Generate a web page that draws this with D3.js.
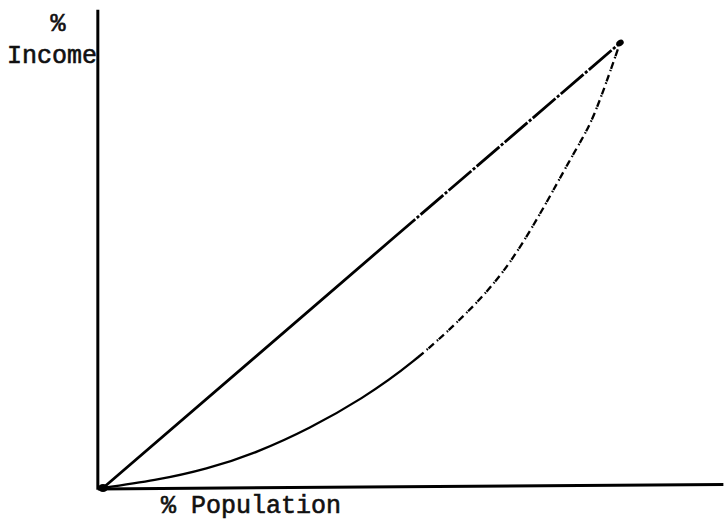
<!DOCTYPE html>
<html>
<head>
<meta charset="utf-8">
<script src="https://cdn.jsdelivr.net/npm/d3@7"></script>
<style>
  body { margin: 0; background: #fff; }
  text { font-family: "Liberation Mono", "DejaVu Sans Mono", monospace; fill: #111; stroke: #111; stroke-width: 0.6px; }
</style>
</head>
<body>
<div id="chart"></div>
<script>
// % population (cumulative) and % income (cumulative)
const population = [0, 10, 20, 30, 40, 50, 60, 70, 80, 90, 95, 100];
const income     = [0, 1.8, 4.4, 8.3, 13.6, 20.2, 28.5, 39, 53, 73, 84, 100];
const equality   = [0, 100];

const xLabel = '% Population';
const yLabel = ['%', 'Income'];

const width = 725, height = 522;

let svg = d3.select('#chart')
  .append('svg')
    .attr('width', width)
    .attr('height', height);

// scales
let x = d3.scaleLinear().domain([0, 100]).range([103, 620]);
let y = d3.scaleLinear().domain([0, 100]).range([488, 43]);

// axes (plain lines, no ticks)
svg.append('line')
  .attr('x1', x(-1)).attr('x2', x(-1))
  .attr('y1', y(-0.4)).attr('y2', y(107.5))
  .attr('stroke', '#000').attr('stroke-width', 3);
svg.append('line')
  .attr('x1', x(-1)).attr('x2', x(120))
  .attr('y1', y(-0.2)).attr('y2', y(0.8))
  .attr('stroke', '#000').attr('stroke-width', 3);

let line = d3.line()
  .x(d => x(d[0]))
  .y(d => y(d[1]))
  .curve(d3.curveNatural);

// solid for the lower part of a path, then a broken pattern (faded print)
function brokenAfter(node, xCut, pattern) {
  let len = node.getTotalLength();
  let lo = 0, hi = len;
  for (let i = 0; i < 30; i++) {
    let mid = (lo + hi) / 2;
    if (node.getPointAtLength(mid).x < x(xCut)) lo = mid; else hi = mid;
  }
  let pat = [lo, 0];
  let step = d3.sum(pattern);
  for (let s = lo; s < len; s += step) pat = pat.concat(pattern);
  return pat.join(',');
}

// line of equality
let eqPts = equality.map(v => [v, v]);
svg.append('path')
  .datum(eqPts)
  .attr('d', line)
  .attr('fill', 'none').attr('stroke', '#000').attr('stroke-width', 2.8)
  .attr('stroke-dasharray', function() { return brokenAfter(this, 56, [30, 2, 3, 2]); });

// lorenz curve
let lorenz = population.map((p, i) => [p, income[i]]);
svg.append('path')
  .datum(lorenz)
  .attr('d', line)
  .attr('fill', 'none').attr('stroke', '#000').attr('stroke-width', 2.3)
  .attr('stroke-dasharray', function() { return brokenAfter(this, 61, [7, 4, 1.5, 1]); });

// end blobs
svg.append('ellipse')
  .attr('cx', x(0)).attr('cy', y(0))
  .attr('rx', 5).attr('ry', 4).attr('fill', '#000');
svg.append('ellipse')
  .attr('cx', x(100)).attr('cy', y(100))
  .attr('rx', 4).attr('ry', 3)
  .attr('transform', 'rotate(-35,' + x(100) + ',' + y(100) + ')')
  .attr('fill', '#000');

// labels
svg.append('text')
  .attr('x', 58).attr('y', 31)
  .attr('text-anchor', 'middle')
  .style('font-size', '25px')
  .text(yLabel[0]);
svg.append('text')
  .attr('x', 7).attr('y', 63)
  .style('font-size', '25px')
  .text(yLabel[1]);
svg.append('text')
  .attr('x', 161).attr('y', 513)
  .style('font-size', '25px')
  .text(xLabel);
</script>
</body>
</html>
